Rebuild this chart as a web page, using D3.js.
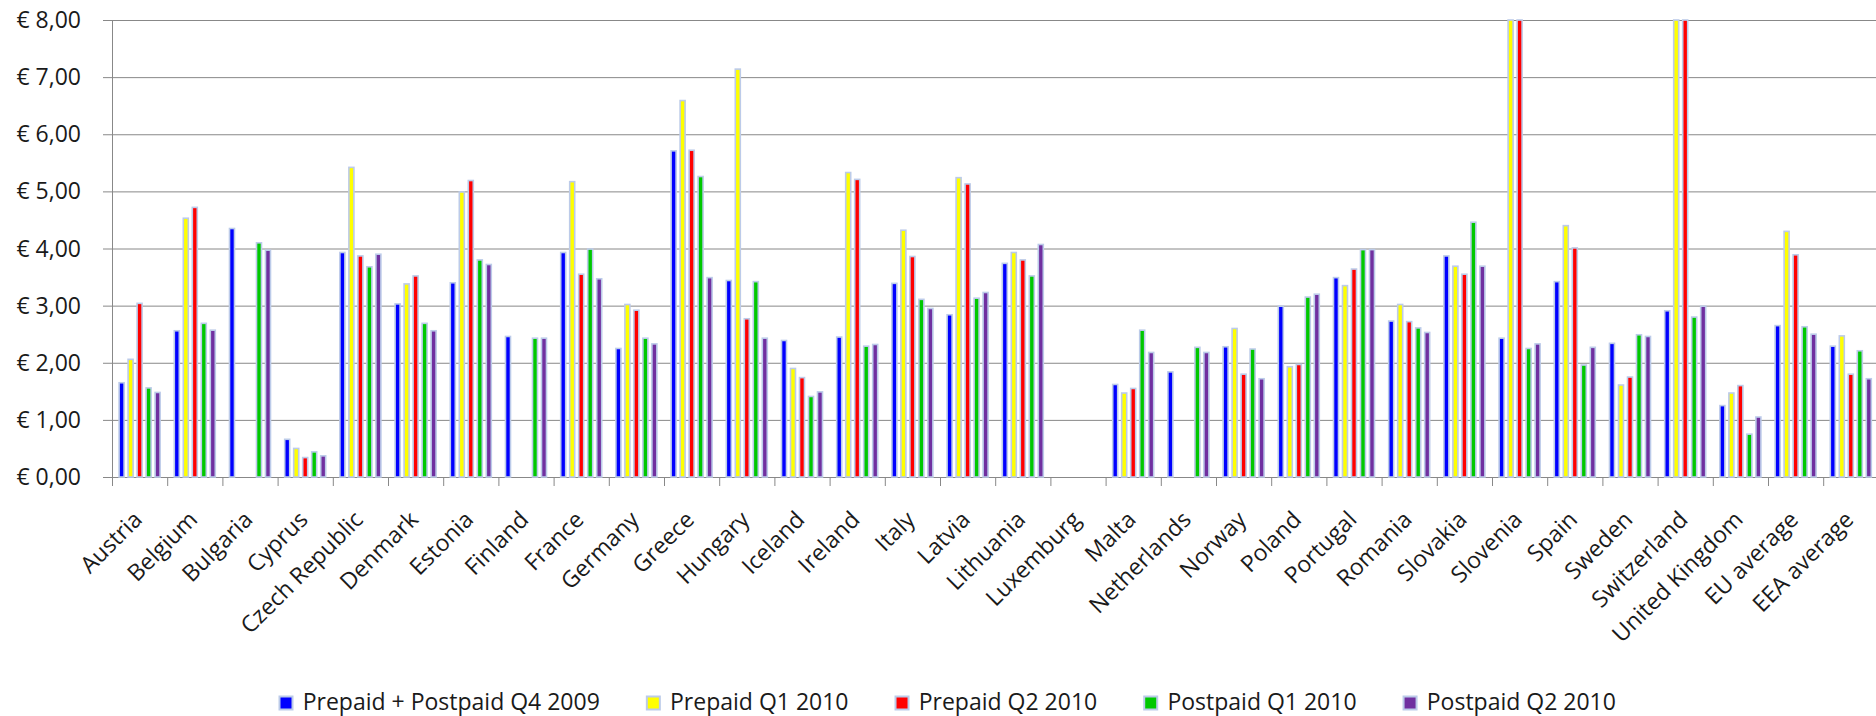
<!DOCTYPE html>
<html>
<head>
<meta charset="utf-8">
<script src="https://cdn.jsdelivr.net/npm/d3@7"></script>
<style>
  body { margin: 0; background: #fff; }
  svg text { font-family: "Open Sans", sans-serif; fill: #1a1a1a; }
</style>
</head>
<body>
<div id="chart"></div>
<script>
// categories
const countries = ["Austria", "Belgium", "Bulgaria", "Cyprus", "Czech Republic", "Denmark", "Estonia",
    "Finland", "France", "Germany", "Greece", "Hungary", "Iceland", "Ireland", "Italy", "Latvia",
    "Lithuania", "Luxemburg", "Malta", "Netherlands", "Norway", "Poland", "Portugal", "Romania",
    "Slovakia", "Slovenia", "Spain", "Sweden", "Switzerland", "United Kingdom", "EU average", "EEA average"];

const seriesNames = ["Prepaid + Postpaid Q4 2009", "Prepaid Q1 2010", "Prepaid Q2 2010", "Postpaid Q1 2010", "Postpaid Q2 2010"];
const seriesColors = ["#0000ff", "#ffff00", "#ff0000", "#00c800", "#7030a0"];

// series values (null = no data); Slovenia / Switzerland prepaid go off the top of the axis
const prepaidPostpaidQ4_2009 = [1.65, 2.56, 4.35, 0.66, 3.93, 3.03, 3.40, 2.46, 3.93, 2.25, 5.71, 3.44, 2.39, 2.45, 3.39, 2.84,
    3.74, null, 1.62, 1.84, 2.28, 2.99, 3.49, 2.73, 3.87, 2.43, 3.42, 2.34, 2.91, 1.25, 2.65, 2.29];
const prepaidQ1_2010 = [2.06, 4.53, null, 0.50, 5.42, 3.38, 4.99, null, 5.17, 3.02, 6.59, 7.14, 1.90, 5.33, 4.32, 5.24,
    3.93, null, 1.47, null, 2.60, 1.93, 3.35, 3.02, 3.69, 10.0, 4.40, 1.61, 10.0, 1.47, 4.30, 2.47];
const prepaidQ2_2010 = [3.04, 4.72, null, 0.34, 3.87, 3.52, 5.19, null, 3.55, 2.92, 5.72, 2.77, 1.74, 5.21, 3.86, 5.13,
    3.80, null, 1.55, null, 1.80, 1.97, 3.64, 2.72, 3.55, 10.0, 4.01, 1.75, 10.0, 1.60, 3.89, 1.80];
const postpaidQ1_2010 = [1.56, 2.69, 4.10, 0.44, 3.68, 2.69, 3.80, 2.43, 3.99, 2.43, 5.26, 3.42, 1.41, 2.29, 3.11, 3.13,
    3.52, null, 2.57, 2.27, 2.24, 3.15, 3.98, 2.61, 4.46, 2.25, 1.96, 2.49, 2.80, 0.75, 2.63, 2.21];
const postpaidQ2_2010 = [1.48, 2.57, 3.97, 0.37, 3.90, 2.56, 3.72, 2.43, 3.47, 2.33, 3.49, 2.43, 1.49, 2.32, 2.95, 3.23,
    4.07, null, 2.18, 2.18, 1.72, 3.20, 3.98, 2.53, 3.69, 2.33, 2.27, 2.46, 2.99, 1.05, 2.50, 1.72];

// y tick labels
const yTicks = [0, 1, 2, 3, 4, 5, 6, 7, 8];

const seriesValues = [prepaidPostpaidQ4_2009, prepaidQ1_2010, prepaidQ2_2010, postpaidQ1_2010, postpaidQ2_2010];

const W = 1876, H = 716;
const margin = { top: 20, left: 112, bottom: 239 };
const catWidth = 55.2;
const plotBottom = H - margin.bottom;
const fontSize = "23px";

const svg = d3.select("#chart").append("svg")
    .attr("width", W)
    .attr("height", H);

// scales
const x = d3.scaleBand()
    .domain(countries)
    .range([margin.left, margin.left + countries.length * catWidth]);

const xs = d3.scaleBand()
    .domain(d3.range(seriesNames.length))
    .range([0, 45]);

const y = d3.scaleLinear()
    .domain([0, 8])
    .range([plotBottom, margin.top])
    .clamp(true);

// gridlines
svg.append("g")
    .selectAll("line")
    .data(yTicks)
    .join("line")
    .attr("x1", margin.left - 9)
    .attr("x2", W)
    .attr("y1", d => y(d) + 0.5)
    .attr("y2", d => y(d) + 0.5)
    .attr("stroke", "#888")
    .attr("stroke-width", 1);

// y axis line
svg.append("line")
    .attr("x1", margin.left + 0.5)
    .attr("x2", margin.left + 0.5)
    .attr("y1", margin.top)
    .attr("y2", plotBottom + 9)
    .attr("stroke", "#888");

// category ticks at the band boundaries
const boundaries = countries.slice(1).map(c => x(c)).concat([x.range()[1]]);
svg.append("g")
    .selectAll("line")
    .data(boundaries)
    .join("line")
    .attr("x1", d => d + 0.5)
    .attr("x2", d => d + 0.5)
    .attr("y1", plotBottom)
    .attr("y2", plotBottom + 9)
    .attr("stroke", "#888");

// y labels
svg.append("g")
    .selectAll("text")
    .data(yTicks)
    .join("text")
    .attr("x", 81)
    .attr("y", d => y(d) + 8)
    .attr("text-anchor", "end")
    .style("font-size", fontSize)
    .text(d => "€ " + d.toFixed(2).replace(".", ","));

// bars
const groupOffset = (x.bandwidth() - 45) / 2;
const barData = [];
countries.forEach((c, ci) => {
    seriesValues.forEach((vals, si) => {
        if (vals[ci] != null) barData.push({ country: c, series: si, value: vals[ci] });
    });
});

svg.append("g")
    .selectAll("rect")
    .data(barData)
    .join("rect")
    .attr("x", d => x(d.country) + groupOffset + xs(d.series) + 2)
    .attr("width", 5)
    .attr("y", d => y(d.value))
    .attr("height", d => y(0) - y(d.value))
    .attr("fill", d => seriesColors[d.series])
    .attr("stroke", "#bccbe9")
    .attr("stroke-width", 1.6);

// x labels, rotated
svg.append("g")
    .selectAll("text")
    .data(countries)
    .join("text")
    .attr("transform", d => "translate(" + (x(d) + x.bandwidth() / 2 + 4) + "," + 521 + ") rotate(-45)")
    .attr("text-anchor", "end")
    .style("font-size", fontSize)
    .text(d => d);

// legend
const legend = svg.append("g").attr("transform", "translate(279,696)");
let lx = 0;
seriesNames.forEach((name, i) => {
    const item = legend.append("g").attr("transform", "translate(" + lx + ",0)");
    item.append("rect")
        .attr("width", 13)
        .attr("height", 13)
        .attr("x", 0.5)
        .attr("y", 0.5)
        .attr("fill", seriesColors[i])
        .attr("stroke", "#bccbe9")
        .attr("stroke-width", 2);
    const t = item.append("text")
        .attr("x", 23.7)
        .attr("y", 14)
        .style("font-size", fontSize)
        .text(name);
    lx += 23.7 + t.node().getComputedTextLength() + 46.5;
});
</script>
</body>
</html>
